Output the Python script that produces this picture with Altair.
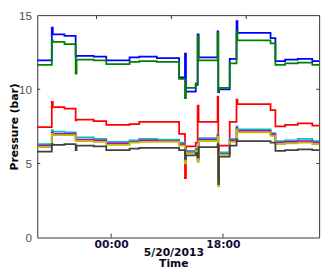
import altair as alt
import pandas as pd

# time in hours relative to 00:00 on 5/20/2013
HOURS = [-11.89, -9.55, -9.39, -7.51, -5.71, -5.56, -2.82, -0.78, 2.97, 4.54, 7.36,
         10.95, 11.89, 12.05, 13.62, 13.93, 14.08, 17.14, 17.25, 17.37, 19.09,
         20.19, 20.34, 25.67, 26.45, 28.01, 30.05, 32.39, 33.49]

BLUE = [11.95, 14.15, 13.7, 13.6, 12.2, 12.25, 12.2, 11.95, 12.15, 12.2, 12.1,
        10.8, 12.4, 9.85, 10.3, 13.7, 12.15, 13.9, 9.8, 10.0, 12.05,
        14.6, 13.8, 13.45, 11.9, 12.0, 12.05, 11.9, 11.9]
GREEN = [11.65, 13.3, 13.2, 13.05, 11.05, 12.0, 11.95, 11.7, 11.85, 11.9, 11.85,
         10.7, 9.4, 10.1, 10.4, 13.6, 11.95, 13.8, 9.9, 10.1, 11.75,
         13.9, 13.3, 13.1, 11.65, 11.75, 11.8, 11.65, 11.65]
RED = [7.45, 9.15, 8.8, 8.7, 7.9, 7.95, 7.85, 7.6, 7.65, 7.8, 7.8,
       7.0, 4.0, 6.15, 6.4, 8.9, 7.8, 9.5, 4.1, 6.2, 7.8,
       9.3, 9.0, 8.6, 7.5, 7.6, 7.7, 7.55, 7.55]
CYAN = [6.3, 7.25, 7.15, 7.1, 6.75, 6.75, 6.65, 6.45, 6.55, 6.65, 6.6,
        6.4, 5.2, 5.85, 6.0, 5.3, 6.7, 7.0, 4.3, 5.75, 6.65,
        7.5, 7.3, 7.05, 6.5, 6.55, 6.65, 6.5, 6.5]
MAGENTA = [6.2, 7.1, 7.0, 7.0, 6.6, 6.6, 6.55, 6.35, 6.45, 6.55, 6.5,
           6.3, 5.1, 5.75, 5.9, 5.2, 6.6, 6.9, 4.0, 5.65, 6.55,
           7.4, 7.2, 6.95, 6.4, 6.45, 6.5, 6.4, 6.4]
YELLOW = [6.1, 7.0, 6.9, 6.9, 6.5, 6.5, 6.45, 6.25, 6.4, 6.45, 6.45,
          6.2, 5.0, 5.7, 5.85, 5.1, 6.5, 6.8, 3.45, 5.6, 6.45,
          7.3, 7.1, 6.85, 6.3, 6.35, 6.4, 6.3, 6.3]
GRAY = [5.8, 6.3, 6.25, 6.3, 5.9, 6.2, 6.15, 5.9, 6.0, 6.05, 6.05,
        5.9, 5.3, 5.55, 5.7, 5.4, 6.1, 6.3, 3.6, 5.45, 6.2,
        6.6, 6.5, 6.4, 5.85, 5.9, 5.95, 5.9, 5.9]

SERIES = [("blue", BLUE, "#0000ff"), ("green", GREEN, "#008000"), ("red", RED, "#ff0000"),
          ("cyan", CYAN, "#00bfbf"), ("magenta", MAGENTA, "#bf00bf"),
          ("yellow", YELLOW, "#bfbf00"), ("gray", GRAY, "#404040")]

X_TICKS_BOTTOM = [0, 18]
X_TICKS_TOP = [-2.35, 9.7, 21.75]
Y_TICKS = [5, 10]

W, H = 289, 228
xscale = alt.Scale(domain=[-11.89, 33.49], nice=False, zero=False)
yscale = alt.Scale(domain=[0, 15], nice=False)

xaxis = alt.Axis(values=X_TICKS_BOTTOM,
                 labelExpr="datum.value == 0 ? '00:00' : '18:00'",
                 labelFont="DejaVu Sans", labelFontWeight="bold", labelFontSize=11,
                 labelColor="#10103a", tickSize=0, domain=False, grid=False,
                 labelPadding=1, labelFlush=False,
                 title=["5/20/2013", "Time"], titleFont="DejaVu Sans",
                 titleFontWeight="bold", titleFontSize=11, titleColor="#08081a",
                 titleX=139.5, titleY=9, titleBaseline="top", titleAlign="center",
                 titleLineHeight=12)
yaxis = alt.Axis(values=[0, 5, 10, 15], labelFont="Liberation Sans", labelFontSize=12,
                 labelColor="#505050", tickSize=0, domain=False, grid=False,
                 labelPadding=6, title="Pressure (bar)", titleFont="DejaVu Sans",
                 titleFontWeight="bold", titleFontSize=11, titleColor="#000000",
                 titleAngle=270, titleX=-23, titleY=114, titleBaseline="middle",
                 titleAlign="center")

layers = []
for i, (name, vals, col) in enumerate(SERIES):
    df = pd.DataFrame({"hour": HOURS, "value": vals})
    if i == 0:
        enc_x = alt.X("hour:Q", scale=xscale, axis=xaxis)
        enc_y = alt.Y("value:Q", scale=yscale, axis=yaxis)
    else:
        enc_x = alt.X("hour:Q", scale=xscale)
        enc_y = alt.Y("value:Q", scale=yscale)
    layers.append(alt.Chart(df).mark_line(interpolate="step-after", color=col,
                                          strokeWidth=1.8, clip=True)
                  .encode(x=enc_x, y=enc_y))

tick_color = "#333333"
bottom_ticks = alt.Chart(pd.DataFrame({"hour": X_TICKS_BOTTOM})).mark_rule(
    color=tick_color).encode(x=alt.X("hour:Q", scale=xscale),
                             y=alt.value(H), y2=alt.value(H - 4))
top_ticks = alt.Chart(pd.DataFrame({"hour": X_TICKS_TOP})).mark_rule(
    color=tick_color).encode(x=alt.X("hour:Q", scale=xscale),
                             y=alt.value(0), y2=alt.value(4))
left_ticks = alt.Chart(pd.DataFrame({"value": Y_TICKS})).mark_rule(
    color=tick_color).encode(y=alt.Y("value:Q", scale=yscale),
                             x=alt.value(0), x2=alt.value(3))
right_ticks = alt.Chart(pd.DataFrame({"value": Y_TICKS})).mark_rule(
    color=tick_color).encode(y=alt.Y("value:Q", scale=yscale),
                             x=alt.value(W), x2=alt.value(W - 3))

chart = alt.layer(*layers, bottom_ticks, top_ticks, left_ticks, right_ticks).properties(
    width=W, height=H,
    autosize=alt.AutoSizeParams(type="none"),
    padding={"left": 30, "top": 4, "right": 6, "bottom": 32},
    background="white",
).configure_view(stroke="#333333", strokeWidth=1)

chart.save("out.html", embed_options={"renderer": "svg", "actions": False})
